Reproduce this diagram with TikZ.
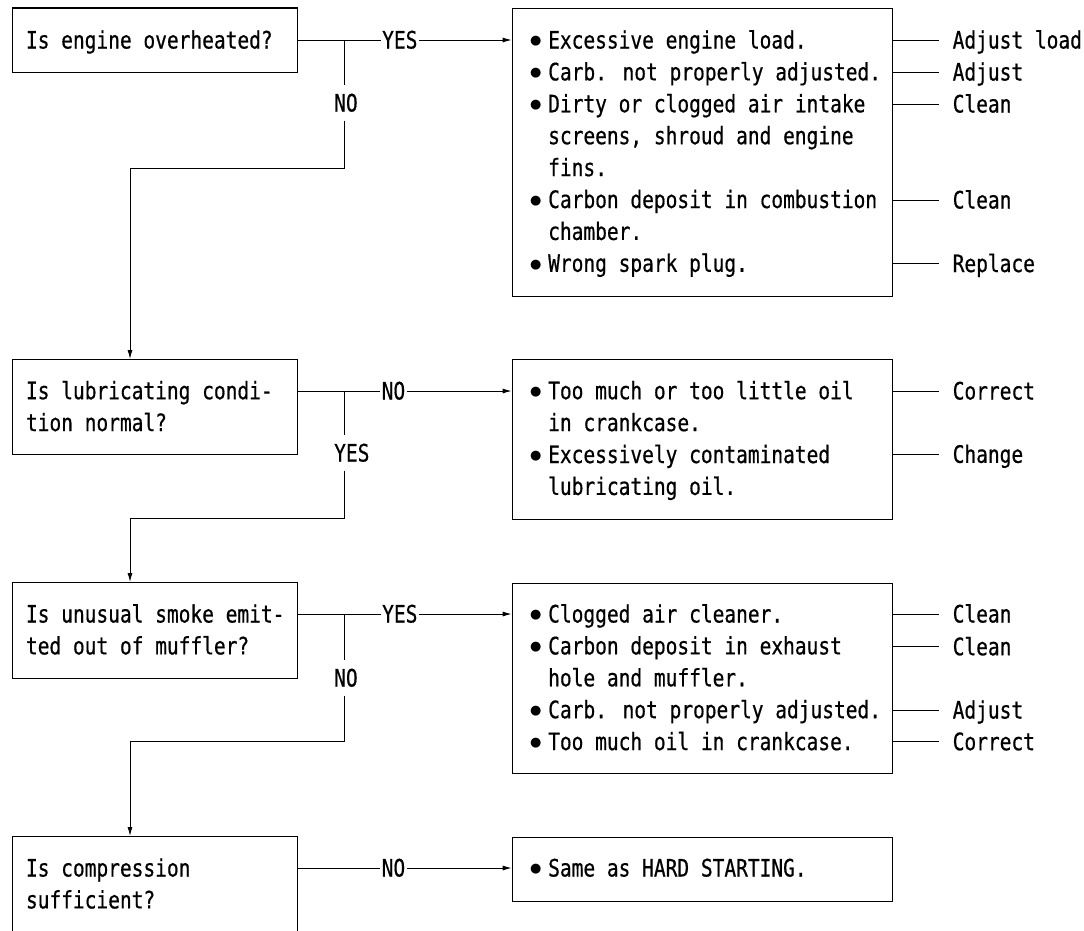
\documentclass[tikz,border=0pt]{standalone}
\usepackage{fontspec}
\usetikzlibrary{arrows.meta}
\newfontfamily\mono[FakeStretch=0.813,FakeBold=0.6]{DejaVu Sans Mono}
\newfontfamily\bulfont{DejaVu Sans}
\newcommand\bitem[1]{\hbox{\makebox[18pt][l]{\raisebox{3.6pt}{\bulfont\fontsize{13}{13}\selectfont\char"25CF}}#1}}
\newcommand\contline[1]{\hbox{\hspace*{18pt}#1}}
\newcommand\plainline[1]{\hbox{#1}}
\newcommand\textblock[1]{\vtop{\baselineskip=31.9pt #1}}
\tikzset{
  every node/.style={font=\mono\fontsize{24}{31.9}\selectfont},
  box/.style={draw, line width=1.2pt, inner sep=0pt, anchor=north west},
  txt/.style={inner sep=0pt, anchor=base west},
  lab/.style={inner xsep=1.5pt, inner ysep=0pt, text height=17pt, text depth=0pt, anchor=west},
  vlab/.style={inner xsep=1.5pt, inner ysep=9pt, text height=17pt, text depth=0pt, anchor=west},
  act/.style={inner xsep=13.5pt, inner ysep=0pt, text height=17pt, text depth=0pt, anchor=west},
  conn/.style={line width=1pt},
  arr/.style={conn, -{Latex[length=9pt,width=5pt]}}
}
\begin{document}
\begin{tikzpicture}[x=1pt,y=-1pt]
\useasboundingbox (0,0) rectangle (1084,930);
\clip (0,0) rectangle (1084,930);
\fill[white] (0,0) rectangle (1084,930);

% ---------- question boxes ----------
\node[box, minimum width=285.5pt, minimum height=64.4pt] (q1) at (11.5,7.3) {};
\node[txt] (q1t) at (25.8,48.5) {Is engine overheated?};

\node[box, minimum width=285.5pt, minimum height=95pt] (q2) at (11.5,359) {};
\node[txt] (q2t) at (25.8,399.2) {\textblock{\plainline{Is lubricating condi-}\plainline{tion normal?}}};

\node[box, minimum width=285.5pt, minimum height=95.7pt] (q3) at (11.5,582) {};
\node[txt] (q3t) at (25.8,622.5) {\textblock{\plainline{Is unusual smoke emit-}\plainline{ted out of muffler?}}};

\node[box, minimum width=285.5pt, minimum height=130pt] (q4) at (11.5,836) {};
\node[txt] (q4t) at (25.8,876.5) {\textblock{\plainline{Is compression}\plainline{sufficient?}}};

% ---------- answer boxes ----------
\node[box, minimum width=380pt, minimum height=288pt] (a1) at (511.7,8) {};
\node[txt] (a1t) at (530,48.5) {\textblock{%
  \bitem{Excessive engine load.}%
  \bitem{Carb. not properly adjusted.}%
  \bitem{Dirty or clogged air intake}%
  \contline{screens, shroud and engine}%
  \contline{fins.}%
  \bitem{Carbon deposit in combustion}%
  \contline{chamber.}%
  \bitem{Wrong spark plug.}}};

\node[box, minimum width=380pt, minimum height=160pt] (a2) at (511.7,359) {};
\node[txt] (a2t) at (530,399.2) {\textblock{%
  \bitem{Too much or too little oil}%
  \contline{in crankcase.}%
  \bitem{Excessively contaminated}%
  \contline{lubricating oil.}}};

\node[box, minimum width=380pt, minimum height=190.3pt] (a3) at (511.7,582.7) {};
\node[txt] (a3t) at (530,622.5) {\textblock{%
  \bitem{Clogged air cleaner.}%
  \bitem{Carbon deposit in exhaust}%
  \contline{hole and muffler.}%
  \bitem{Carb. not properly adjusted.}%
  \bitem{Too much oil in crankcase.}}};

\node[box, minimum width=380pt, minimum height=63.7pt] (a4) at (511.7,837) {};
\node[txt] (a4t) at (530,876.5) {\textblock{\bitem{Same as HARD STARTING.}}};

% ---------- branch labels ----------
\node[lab] (yes1) at (380.5,40) {YES\hspace{11.5pt}};
\node[vlab] (no1) at (332.5,103) {NO};
\coordinate (j1) at (344.5,40);
\coordinate (b1) at (130,168);

\node[lab] (no2) at (380,391) {NO};
\node[vlab] (yes2) at (332.5,453) {YES};
\coordinate (j2) at (344.5,391);
\coordinate (b2) at (130,518);

\node[lab] (yes3) at (380.5,614) {YES\hspace{11.5pt}};
\node[vlab] (no3) at (332.5,678) {NO};
\coordinate (j3) at (344.5,614);
\coordinate (b3) at (130,741);

\node[lab] (no4) at (380,868) {NO};

% ---------- connectors ----------
\draw[conn] (q1.east |- yes1.west) -- (yes1.west);
\draw[arr] (yes1.east) -- (a1.west |- yes1.east);
\draw[conn] (j1) -- (j1 |- no1.north);
\draw[arr] (j1 |- no1.south) |- (b1) -- (q2.north -| b1);

\draw[conn] (q2.east |- no2.west) -- (no2.west);
\draw[arr] (no2.east) -- (a2.west |- no2.east);
\draw[conn] (j2) -- (j2 |- yes2.north);
\draw[arr] (j2 |- yes2.south) |- (b2) -- (q3.north -| b2);

\draw[conn] (q3.east |- yes3.west) -- (yes3.west);
\draw[arr] (yes3.east) -- (a3.west |- yes3.east);
\draw[conn] (j3) -- (j3 |- no3.north);
\draw[arr] (j3 |- no3.south) |- (b3) -- (q4.north -| b3);

\draw[conn] (q4.east |- no4.west) -- (no4.west);
\draw[arr] (no4.east) -- (a4.west |- no4.east);

% ---------- remedies ----------
\node[act] (r11) at (939,40) {Adjust load};
\node[act] (r12) at (939,72) {Adjust};
\node[act] (r13) at (939,104) {Clean};
\node[act] (r14) at (939,200) {Clean};
\node[act] (r15) at (939,263.5) {Replace};
\foreach \r in {r11,r12,r13,r14,r15} \draw[conn] (a1.east |- \r.west) -- (\r.west);

\node[act] (r21) at (939,391) {Correct};
\node[act] (r22) at (939,454.3) {Change};
\foreach \r in {r21,r22} \draw[conn] (a2.east |- \r.west) -- (\r.west);

\node[act] (r31) at (939,614) {Clean};
\node[act] (r32) at (939,646.7) {Clean};
\node[act] (r33) at (939,710) {Adjust};
\node[act] (r34) at (939,741.7) {Correct};
\foreach \r in {r31,r32,r33,r34} \draw[conn] (a3.east |- \r.west) -- (\r.west);
\end{tikzpicture}
\end{document}
